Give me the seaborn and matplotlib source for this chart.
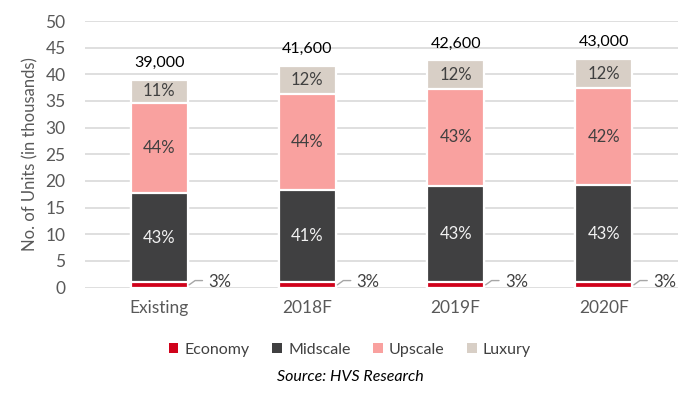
import numpy as np
import pandas as pd
import matplotlib
matplotlib.use("Agg")
import matplotlib.pyplot as plt
from matplotlib.patches import Patch
import seaborn as sns

categories = ["Existing", "2018F", "2019F", "2020F"]
economy = [1.0, 1.0, 1.0, 1.0]
midscale = [16.7, 17.2, 18.0, 18.2]
upscale = [17.0, 18.1, 18.3, 18.2]
luxury = [4.3, 5.3, 5.3, 5.5]
totals = ["39,000", "41,600", "42,600", "43,000"]
eco_pct = ["3%", "3%", "3%", "3%"]
mid_pct = ["43%", "41%", "43%", "43%"]
up_pct = ["44%", "44%", "43%", "42%"]
lux_pct = ["11%", "12%", "12%", "12%"]
yticks = [0, 5, 10, 15, 20, 25, 30, 35, 40, 45, 50]

series_names = ["Economy", "Midscale", "Upscale", "Luxury"]
colors = ["#D0021B", "#404041", "#F9A19F", "#D8CFC6"]

sns.set_theme(style="white")
plt.rcParams["font.family"] = ["Lato", "DejaVu Sans"]

fig = plt.figure(figsize=(7.0, 3.98), dpi=100)
ax = fig.add_axes([85/700, 1 - 287.5/398, 593/700, 266.5/398])

layers = np.array([economy, midscale, upscale, luxury])
cum = np.cumsum(layers, axis=0)

# draw from top layer down so each lower segment overlays the upper bars
for i in range(3, -1, -1):
    df = pd.DataFrame({"cat": categories, "val": cum[i]})
    sns.barplot(data=df, x="cat", y="val", color=colors[i], width=0.385,
                edgecolor="white", linewidth=1.6, ax=ax, zorder=3,
                saturation=1)

ax.set_ylim(0, 50)
ax.set_xlim(-0.5, 3.5)
ax.set_yticks(yticks)
ax.set_yticklabels([str(t) for t in yticks], fontsize=12.5, color="#595959")
ax.tick_params(axis="x", labelsize=12.5, labelcolor="#595959", pad=9, length=0)
ax.tick_params(axis="y", length=0, pad=14)
ax.yaxis.grid(True, color="#D9D9D9", linewidth=1.2, zorder=0)
ax.set_axisbelow(True)
for s in ax.spines.values():
    s.set_visible(False)
ax.set_xlabel("")
ax.set_ylabel("No. of Units (in thousands)", fontsize=12, color="#595959", labelpad=5)

for j in range(len(categories)):
    ax.text(j, cum[0][j] + midscale[j] / 2, mid_pct[j], ha="center", va="center",
            fontsize=12, color="#F2F2F2", zorder=5)
    ax.text(j, cum[1][j] + upscale[j] / 2, up_pct[j], ha="center", va="center",
            fontsize=12, color="#404040", zorder=5)
    ax.text(j, cum[2][j] + luxury[j] / 2, lux_pct[j], ha="center", va="center",
            fontsize=12, color="#404040", zorder=5)
    ax.text(j, cum[3][j] + 1.8, totals[j], ha="center", va="bottom",
            fontsize=11.5, color="#000000", zorder=5)
    # economy label with leader line
    xr = j + 0.385 / 2
    ax.plot([xr + 0.01, xr + 0.05, xr + 0.1], [0.5, 1.3, 1.3],
            color="#A6A6A6", linewidth=1, zorder=4, clip_on=False)
    ax.text(xr + 0.14, 1.0, eco_pct[j], ha="left", va="center",
            fontsize=12, color="#404040", zorder=5)

handles = [Patch(facecolor=c, edgecolor="none") for c in colors]
fig.legend(handles, series_names, loc="center", bbox_to_anchor=(350/700, 1 - 350/398),
           ncol=4, frameon=False, fontsize=11.5, handlelength=0.6, handleheight=0.6,
           handletextpad=0.4, columnspacing=1.4, labelcolor="#404040")
fig.text(350/700, 1 - 377/398, "Source: HVS Research", ha="center", va="center",
         fontsize=11.5, style="italic", color="#000000")

fig.savefig("out.png", dpi=100)
